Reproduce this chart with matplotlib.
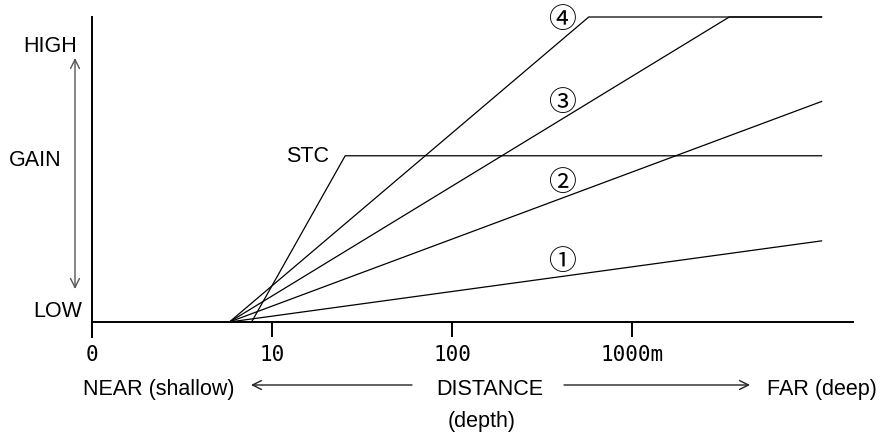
import numpy as np
import matplotlib.pyplot as plt

# distances in metres, gain from 0 (LOW) to 1 (HIGH)
tick_pos = [1, 10, 100, 1000]
tick_labels = ['0', '10', '100', '1000m']

fan_start = 5.8
far_end = 11300

stc_x = [7.7, 25.5, far_end]
stc_y = [0, 0.545, 0.545]

curve_x = {
    '①': [fan_start, far_end],
    '②': [fan_start, far_end],
    '③': [fan_start, 3470, far_end],
    '④': [fan_start, 575, far_end],
}
curve_y = {
    '①': [0, 0.266],
    '②': [0, 0.723],
    '③': [0, 1.0, 1.0],
    '④': [0, 1.0, 1.0],
}
# label spots (metres, gain)
curve_lab_x = {'①': 410, '②': 410, '③': 410, '④': 410}
curve_lab_y = {'①': 0.20, '②': 0.458, '③': 0.72, '④': 0.995}

W, H = 880, 439
fig = plt.figure(figsize=(W / 100, H / 100), dpi=100)
ax = fig.add_axes([0, 0, 1, 1])
ax.set_xscale('log')
ax.set_xlim(10 ** (-92 / 180), 10 ** ((W - 92) / 180))
ax.set_ylim((323 - H) / 305, 323 / 305)

sans = 'Liberation Sans'
fs = 15.5

# axes
for s in ['top', 'right']:
    ax.spines[s].set_visible(False)
ax.spines['left'].set_position(('data', 1))
ax.spines['left'].set_bounds(-0.049, 1.0)
ax.spines['bottom'].set_position(('data', 0))
ax.spines['bottom'].set_bounds(1, 17000)
for s in ['left', 'bottom']:
    ax.spines[s].set_linewidth(1.4)
ax.set_yticks([])
ax.set_xticks(tick_pos)
ax.set_xticklabels(tick_labels, fontfamily='DejaVu Sans Mono', fontsize=15)
ax.xaxis.set_minor_locator(plt.NullLocator())
ax.tick_params(axis='x', direction='out', length=10.8, width=1.4, pad=5)

# curves
ax.plot(stc_x, stc_y, color='black', lw=0.9)
for k in curve_x:
    ax.plot(curve_x[k], curve_y[k], color='black', lw=0.9)
    ax.text(curve_lab_x[k], curve_lab_y[k], k, fontfamily='Noto Sans CJK JP',
            fontsize=20, ha='center', va='center')
ax.text(20.7, 0.545, 'STC', fontfamily=sans, fontsize=fs, ha='right', va='center')


def fx(px):
    return px / W


def fy(py):
    return 1 - py / H


# gain labels
fig.text(fx(23), fy(46), 'HIGH', fontfamily=sans, fontsize=fs, va='center')
fig.text(fx(9), fy(160), 'GAIN', fontfamily=sans, fontsize=fs, va='center')
fig.text(fx(33), fy(312), 'LOW', fontfamily=sans, fontsize=fs, va='center')
fig.add_artist(plt.matplotlib.patches.FancyArrowPatch(
    (fx(75), fy(290)), (fx(75), fy(59)), transform=fig.transFigure,
    arrowstyle='<->', mutation_scale=16, color='#555555', lw=1.0,
    shrinkA=0, shrinkB=0))

# distance labels
fig.text(fx(159), fy(395), 'NEAR (shallow)', fontfamily=sans, fontsize=fs,
         ha='center', va='baseline')
fig.text(fx(490), fy(395), 'DISTANCE', fontfamily=sans, fontsize=fs,
         ha='center', va='baseline')
fig.text(fx(767), fy(395), 'FAR (deep)', fontfamily=sans, fontsize=fs,
         ha='left', va='baseline')
fig.text(fx(482), fy(427), '(depth)', fontfamily=sans, fontsize=fs,
         ha='center', va='baseline')
fig.add_artist(plt.matplotlib.patches.FancyArrowPatch(
    (fx(412), fy(386)), (fx(251), fy(386)), transform=fig.transFigure,
    arrowstyle='->', mutation_scale=16, color='#222222', lw=1.0,
    shrinkA=0, shrinkB=0))
fig.add_artist(plt.matplotlib.patches.FancyArrowPatch(
    (fx(564), fy(386)), (fx(750), fy(386)), transform=fig.transFigure,
    arrowstyle='->', mutation_scale=16, color='#222222', lw=1.0,
    shrinkA=0, shrinkB=0))

fig.savefig('out.png', dpi=100)
